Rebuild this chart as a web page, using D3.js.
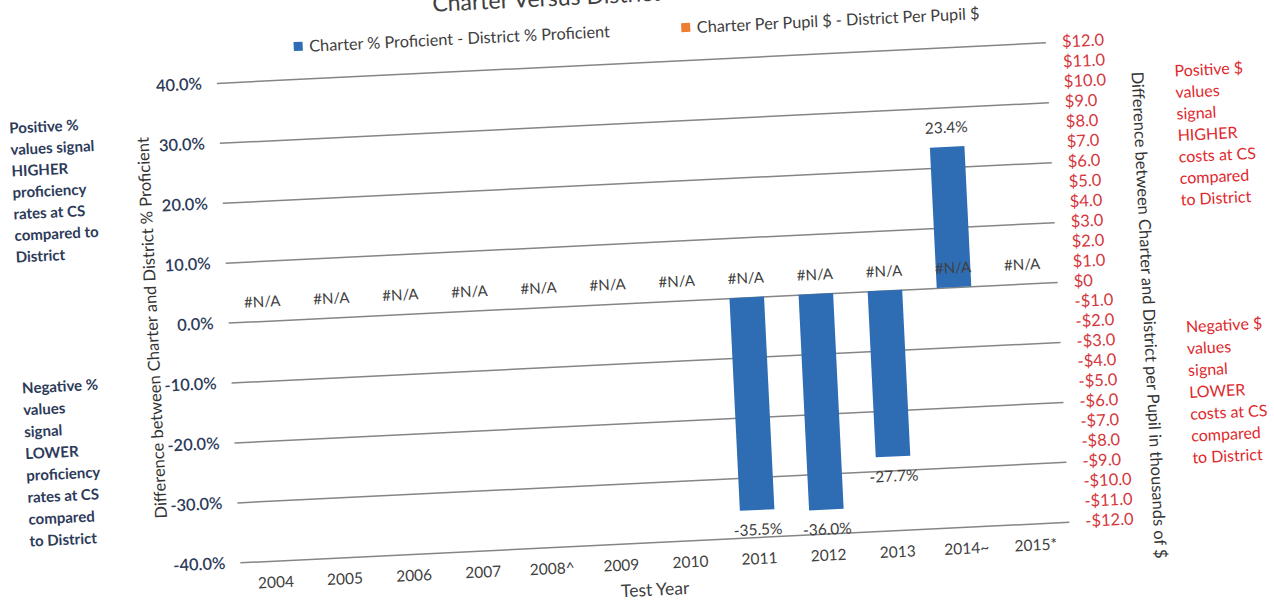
<!DOCTYPE html>
<html><head><meta charset="utf-8">
<script src="https://cdn.jsdelivr.net/npm/d3@7/dist/d3.min.js"></script>
<style>
body{margin:0;background:#fff;}
svg{display:block;font-family:Lato,"Open Sans",sans-serif;}
</style>
</head><body>
<svg id="chart" width="1274" height="602"></svg>
<script>
// ---- data ----
const chartTitle = "Charter Versus District";
const years = ["2004","2005","2006","2007","2008^","2009","2010","2011","2012","2013","2014~","2015*"];
const proficiencyDiff = [null,null,null,null,null,null,null,-35.5,-36.0,-27.7,23.4,null];
const perPupilDiff = [null,null,null,null,null,null,null,null,null,null,null,null]; // all #N/A
const seriesNames = ["Charter % Proficient - District % Proficient","Charter Per Pupil $ - District Per Pupil $"];
const seriesColors = ["#2e6db4","#ed7d31"];
const leftTicks = [40,30,20,10,0,-10,-20,-30,-40];
const rightTicks = [12,11,10,9,8,7,6,5,4,3,2,1,0,-1,-2,-3,-4,-5,-6,-7,-8,-9,-10,-11,-12];
const leftAxisTitle = "Difference between Charter and District % Proficient";
const rightAxisTitle = "Difference between Charter and District per Pupil in thousands of $";
const xAxisTitle = "Test Year";
const posPctNote = ["Positive %","values signal","HIGHER","proficiency","rates at CS","compared to","District"];
const negPctNote = ["Negative %","values","signal","LOWER","proficiency","rates at CS","compared","to District"];
const posDolNote = ["Positive $","values","signal","HIGHER","costs at CS","compared","to District"];
const negDolNote = ["Negative $","values","signal","LOWER","costs at CS","compared","to District"];

// ---- layout ----
const plot = {left:228, right:1058, top:62.5, bottom:542.5};
const svg = d3.select("#chart");
const g = svg.append("g").attr("transform","rotate(-2.8,640,300)");

const x = d3.scaleBand().domain(years).range([plot.left,plot.right]).paddingInner(0.5).paddingOuter(0.25);
const yL = d3.scaleLinear().domain([-40,40]).range([plot.bottom,plot.top]);
const yR = d3.scaleLinear().domain([-12,12]).range([plot.bottom,plot.top]);

const textCol = "#404040", navy = "#2d3b5a", red = "#d4363c";
const pct = v => (v<0?"-":"") + Math.abs(v).toFixed(1) + "%";
const dol = v => v===0 ? "$0" : (v<0?"-":"") + "$" + Math.abs(v).toFixed(1);

// gridlines
g.append("g").attr("transform",`translate(${plot.left},0)`)
  .call(d3.axisLeft(yL).tickValues(leftTicks).tickSize(-(plot.right-plot.left)).tickFormat(""))
  .call(a=>a.select(".domain").remove())
  .selectAll("line").attr("stroke","#858585").attr("stroke-width",1.5);

// left axis labels
g.append("g").attr("transform",`translate(${plot.left},0)`)
  .call(d3.axisLeft(yL).tickValues(leftTicks).tickSize(0).tickPadding(15).tickFormat(pct))
  .call(a=>a.select(".domain").remove())
  .selectAll("text").attr("font-family","Lato").attr("font-size",16.5).attr("font-weight",600).attr("fill",navy);

// right axis labels
g.append("g").attr("transform",`translate(${plot.right},0)`)
  .call(d3.axisRight(yR).tickValues(rightTicks).tickSize(0).tickPadding(16).tickFormat(dol))
  .call(a=>a.select(".domain").remove())
  .selectAll("text").attr("font-family","Lato").attr("font-size",16.5).attr("fill",red);

// x axis labels
g.append("g").attr("transform",`translate(0,${plot.bottom})`)
  .call(d3.axisBottom(x).tickSize(0).tickPadding(16))
  .call(a=>a.select(".domain").remove())
  .selectAll("text").attr("font-family","Lato").attr("font-size",15.5).attr("fill",textCol);

// bars
const barData = years.map((yr,i)=>({yr, v:proficiencyDiff[i]})).filter(d=>d.v!==null);
g.append("g").selectAll("rect").data(barData).join("rect")
  .attr("x",d=>x(d.yr)).attr("width",x.bandwidth())
  .attr("y",d=>yL(Math.max(0,d.v))).attr("height",d=>Math.abs(yL(d.v)-yL(0)))
  .attr("fill",seriesColors[0]);

// bar value labels
g.append("g").selectAll("text").data(barData).join("text")
  .attr("x",d=>x(d.yr)+x.bandwidth()/2)
  .attr("y",d=> d.v>=0 ? yL(d.v)-14 : yL(d.v)+25)
  .attr("text-anchor","middle").attr("font-size",15.5).attr("fill",textCol)
  .text(d=>pct(d.v));

// #N/A labels for per-pupil series
const naData = years.map((yr,i)=>({yr, v:perPupilDiff[i]})).filter(d=>d.v===null);
g.append("g").selectAll("text").data(naData).join("text")
  .attr("x",d=>x(d.yr)+x.bandwidth()/2)
  .attr("y",yR(0)-14)
  .attr("text-anchor","middle").attr("font-size",15).attr("fill",textCol)
  .text("#N/A");

// title (partly cut off at top, as in the scan)
g.append("text").attr("x",447).attr("y",2).attr("font-size",23).attr("fill",textCol).text(chartTitle);

// legend
const legX = [311,699];
seriesNames.forEach((s,i)=>{
  g.append("rect").attr("x",legX[i]-4.5).attr("y",30-4.5).attr("width",9).attr("height",9).attr("fill",seriesColors[i]);
  g.append("text").attr("x",legX[i]+11).attr("y",36).attr("font-size",16.3).attr("fill",textCol).text(s);
});

// axis titles
g.append("text").attr("transform","translate(157,304) rotate(-90)").attr("text-anchor","middle")
  .attr("font-size",16.5).attr("fill","#333").text(leftAxisTitle);
g.append("text").attr("transform","translate(1142,340) rotate(90)").attr("text-anchor","middle")
  .attr("font-size",16.5).attr("fill","#333").text(rightAxisTitle);
g.append("text").attr("x",641).attr("y",596).attr("text-anchor","middle")
  .attr("font-size",17.5).attr("fill",textCol).text(xAxisTitle);

// annotations
function note(lines,x0,y0,step,color,weight,size){
  g.append("g").selectAll("text").data(lines).join("text")
    .attr("x",x0).attr("y",(d,i)=>y0+step*i+5.5)
    .attr("font-size",size).attr("font-weight",weight).attr("fill",color).text(d=>d);
}
note(posPctNote,18.5,97.5,21.5,navy,"bold",15);
note(negPctNote,18.5,357.7,21.9,navy,"bold",15);
note(posDolNote,1185,97.5,21.5,"#e0292d","normal",16);
note(negDolNote,1184,353.6,21.85,"#e0292d","normal",16);
</script>
</body></html>
